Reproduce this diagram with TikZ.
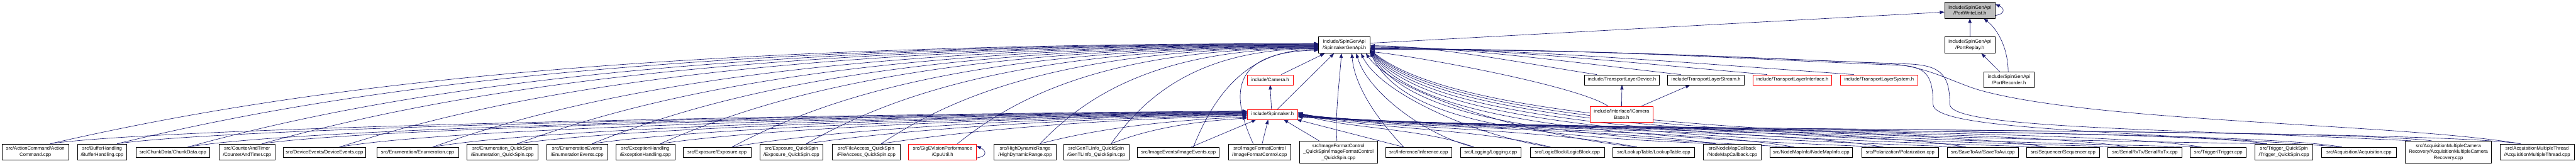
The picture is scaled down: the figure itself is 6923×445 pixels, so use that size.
\documentclass[tikz,border=0pt]{standalone}
\usepackage{fontspec}
\setmainfont{Liberation Sans}
\usetikzlibrary{arrows.meta,calc}
\definecolor{edgeblue}{HTML}{191970}
\definecolor{nodegray}{HTML}{BFBFBF}
\definecolor{nodered}{HTML}{FF0000}
\newcommand\gfont{\fontsize{13}{16}\selectfont}
\pgfdeclarelayer{bg}
\pgfsetlayers{bg,main}
\tikzset{
 box/.style={draw=black, fill=white, line width=1.3pt, inner sep=0pt, align=center, font=\gfont},
 rbox/.style={box, draw=nodered},
 gbox/.style={box, fill=nodegray},
 hA/.style={minimum height=27pt},
 hB/.style={minimum height=43pt},
 hC/.style={minimum height=59pt},
 conn/.style={draw=edgeblue, line width=1.1pt, -{Triangle[length=12pt,width=9pt]}},
}
\begin{document}
\begin{tikzpicture}[x=1pt,y=-1pt]
\useasboundingbox (0,0) rectangle (6923,445);
% bottom row
\node[box,hB,minimum width=180pt] (ac) at (95,408.5) {src/ActionCommand/Action\\Command.cpp};
\node[box,hB,minimum width=131pt] (bh) at (274.5,408.5) {src/BufferHandling\\/BufferHandling.cpp};
\node[box,hA,minimum width=199pt] (cd) at (464.5,409.5) {src/ChunkData/ChunkData.cpp};
\node[box,hB,minimum width=152pt] (ct) at (664,408.5) {src/CounterAndTimer\\/CounterAndTimer.cpp};
\node[box,hA,minimum width=220pt] (de) at (872,409.5) {src/DeviceEvents/DeviceEvents.cpp};
\node[box,hA,minimum width=219pt] (en) at (1122.5,409.5) {src/Enumeration/Enumeration.cpp};
\node[box,hB,minimum width=190pt] (eq) at (1350,408.5) {src/Enumeration\_QuickSpin\\/Enumeration\_QuickSpin.cpp};
\node[box,hB,minimum width=164pt] (ee) at (1551,408.5) {src/EnumerationEvents\\/EnumerationEvents.cpp};
\node[box,hB,minimum width=159pt] (eh) at (1734.5,408.5) {src/ExceptionHandling\\/ExceptionHandling.cpp};
\node[box,hA,minimum width=182pt] (ex) at (1927,409.5) {src/Exposure/Exposure.cpp};
\node[box,hB,minimum width=170pt] (xq) at (2127,408.5) {src/Exposure\_QuickSpin\\/Exposure\_QuickSpin.cpp};
\node[box,hB,minimum width=182pt] (fa) at (2328,408.5) {src/FileAccess\_QuickSpin\\/FileAccess\_QuickSpin.cpp};
\node[rbox,hB,minimum width=182pt] (cu) at (2533,408.5) {src/GigEVisionPerformance\\/CpuUtil.h};
\node[box,hB,minimum width=168pt] (hd) at (2755,408.5) {src/HighDynamicRange\\/HighDynamicRange.cpp};
\node[box,hB,minimum width=176pt] (gt) at (2946,408.5) {src/GenTLInfo\_QuickSpin\\/GenTLInfo\_QuickSpin.cpp};
\node[box,hA,minimum width=220pt] (ie) at (3167,409.5) {src/ImageEvents/ImageEvents.cpp};
\node[box,hB,minimum width=168pt] (ifc) at (3385,408.5) {src/ImageFormatControl\\/ImageFormatControl.cpp};
\node[box,hC,minimum width=210pt] (ifq) at (3597,408.5) {src/ImageFormatControl\\\_QuickSpin/ImageFormatControl\\\_QuickSpin.cpp};
\node[box,hA,minimum width=177pt] (inf) at (3812.5,409.5) {src/Inference/Inference.cpp};
\node[box,hA,minimum width=162pt] (lg) at (4006,409.5) {src/Logging/Logging.cpp};
\node[box,hA,minimum width=200pt] (lb) at (4212,409.5) {src/LogicBlock/LogicBlock.cpp};
\node[box,hA,minimum width=219pt] (lt) at (4444.5,409.5) {src/LookupTable/LookupTable.cpp};
\node[box,hB,minimum width=155pt] (nc) at (4655.5,408.5) {src/NodeMapCallback\\/NodeMapCallback.cpp};
\node[box,hA,minimum width=223pt] (ni) at (4867.5,409.5) {src/NodeMapInfo/NodeMapInfo.cpp};
\node[box,hA,minimum width=207pt] (po) at (5106.5,409.5) {src/Polarization/Polarization.cpp};
\node[box,hA,minimum width=190pt] (sa) at (5329,409.5) {src/SaveToAvi/SaveToAvi.cpp};
\node[box,hA,minimum width=197pt] (sq) at (5544.5,409.5) {src/Sequencer/Sequencer.cpp};
\node[box,hA,minimum width=199pt] (sr) at (5764.5,409.5) {src/SerialRxTx/SerialRxTx.cpp};
\node[box,hA,minimum width=151pt] (tr) at (5961.5,409.5) {src/Trigger/Trigger.cpp};
\node[box,hB,minimum width=156pt] (tq) at (6138,408.5) {src/Trigger\_QuickSpin\\/Trigger\_QuickSpin.cpp};
\node[box,hA,minimum width=201pt] (aq) at (6339.5,409.5) {src/Acquisition/Acquisition.cpp};
\node[box,hC,minimum width=232pt] (amc) at (6580,408.5) {src/AcquisitionMultipleCamera\\Recovery/AcquisitionMultipleCamera\\Recovery.cpp};
\node[box,hB,minimum width=199pt] (amt) at (6818.5,408.5) {src/AcquisitionMultipleThread\\/AcquisitionMultipleThread.cpp};
% middle / top
\node[rbox,hA,minimum width=136pt] (sp) at (3420,307.5) {include/Spinnaker.h};
\node[rbox,hA,minimum width=123pt] (cam) at (3413.5,214.5) {include/Camera.h};
\node[box,minimum height=44pt,minimum width=138pt] (hub) at (3613,121) {include/SpinGenApi\\/SpinnakerGenApi.h};
\node[rbox,hB,minimum width=168pt] (icb) at (4358,307.5) {include/Interface/ICamera\\Base.h};
\node[box,hA,minimum width=202pt] (tld) at (4359,214.5) {include/TransportLayerDevice.h};
\node[box,hA,minimum width=206pt] (tls) at (4585,214.5) {include/TransportLayerStream.h};
\node[rbox,hA,minimum width=212pt] (tli) at (4817,214.5) {include/TransportLayerInterface.h};
\node[rbox,hA,minimum width=208pt] (tlsys) at (5050,214.5) {include/TransportLayerSystem.h};
\node[gbox,hB,minimum width=136pt] (pwl) at (5294,27.5) {include/SpinGenApi\\/PortWriteList.h};
\node[box,minimum height=44pt,minimum width=136pt] (prp) at (5294,121) {include/SpinGenApi\\/PortReplay.h};
\node[box,hB,minimum width=136pt] (prc) at (5399,214.5) {include/SpinGenApi\\/PortRecorder.h};

\begin{pgfonlayer}{bg}
\fill[white] (0,0) rectangle (6923,445);
% left nodes -> Spinnaker.h
\foreach \n/\xs/\dy in {ac/95/-9,bh/274.5/-8,cd/464.5/-7,ct/664/-6,de/872/-5,en/1122.5/-4,eq/1350/-3,ee/1551/-2,eh/1734.5/-1,ex/1927/0,xq/2127/2,fa/2328/4,hd/2755/7,gt/2946/10}{
 \pgfmathsetmacro\dd{3352-\xs-40}
 \draw[conn] ($(\n.north)+(40,0)$) .. controls ({\xs+40+min(300,0.3*\dd)},342) and ({3352-0.35*\dd},{315.5+\dy}) .. ($(sp.west)+(0,\dy)$);
}
% left nodes -> SpinnakerGenApi.h
\foreach \n/\xs/\dy in {ac/95/-4,bh/274.5/-3,cd/464.5/-2,ct/664/-1,de/872/0,en/1122.5/1,eq/1350/2,ee/1551/3,eh/1734.5/4,ex/1927/5,xq/2127/6,fa/2328/7,cu/2533/8,hd/2755/9,gt/2946/10,ie/3167/12}{
 \pgfmathsetmacro\dd{3544-\xs-40}
 \draw[conn] ($(\n.north)+(40,0)$) .. controls ({\xs+40+0.15*\dd},270) and ({3544-0.6*\dd},{121+\dy}) .. ($(hub.west)+(0,\dy)$);
}
% right nodes -> Spinnaker.h
\foreach \n/\xs/\dy in {lg/4006/-6,lb/4212/-5,lt/4444.5/-4,nc/4655.5/-3,ni/4867.5/-2,po/5106.5/-1,sa/5329/0,sq/5544.5/1,sr/5764.5/2,tr/5961.5/3,tq/6138/4,aq/6339.5/5,amc/6580/6,amt/6818.5/7}{
 \pgfmathsetmacro\dd{\xs-45-3488}
 \draw[conn] ($(\n.north)+(-45,0)$) .. controls ({\xs-45-min(300,0.3*\dd)},342) and ({3488+0.2*\dd},{350+\dy}) .. ($(sp.east)+(0,\dy)$);
}
% right nodes -> hub bottom
\foreach \n/\xs/\dx in {lg/4006/32,lb/4212/45,lt/4444.5/58}{
 \pgfmathsetmacro\dd{\xs-45-3613-\dx}
 \draw[conn] ($(\n.north)+(-45,0)$) .. controls ({\xs-45-0.4*\dd},365) and ({3613+\dx+0.1*\dd},250) .. ($(hub.south)+(\dx,0)$);
}
% right nodes -> hub east (low route)
\foreach \n/\xs/\dy in {nc/4655.5/20,ni/4867.5/19,po/5106.5/18,sa/5329/17,sq/5544.5/16,sr/5764.5/15,tr/5961.5/14,tq/6138/13}{
 \pgfmathsetmacro\dd{\xs-45-3682}
 \draw[conn] ($(\n.north)+(-45,0)$) .. controls ({\xs-45-0.5*\dd},368) and ({3682+0.1*\dd},335) .. ($(hub.east)+(0,\dy)$);
}
% right nodes -> hub east (high route)
\draw[conn] ($(aq.north)+(-45,0)$) .. controls (5700,350) and (5195,350) .. (5195,280) .. controls (5195,200) and (5175,178) .. (5100,175) .. controls (4700,160) and (4300,131) .. ($(hub.east)+(0,10)$);
\draw[conn] ($(amc.north)+(-100,0)$) .. controls (5800,345) and (5240,345) .. (5240,280) .. controls (5240,200) and (5215,176) .. (5130,172) .. controls (4720,158) and (4300,132) .. ($(hub.east)+(0,11)$);
\draw[conn] ($(amt.north)+(-45,0)$) .. controls (6450,332) and (5650,330) .. (5330,245) .. controls (5250,224) and (5180,175) .. (5060,170) .. controls (4700,155) and (4300,133) .. ($(hub.east)+(0,12)$);
% transport layer -> hub
\foreach \n/\xs/\dy in {tld/4359/2,tls/4585/4,tli/4817/6,tlsys/5050/8}{
 \pgfmathsetmacro\dd{\xs-68-3682}
 \draw[conn] ($(\n.north)+(-68,0)$) .. controls ({\xs-68-0.25*\dd},178) and ({3682+0.3*\dd},{121+\dy}) .. ($(hub.east)+(0,\dy)$);
}
% ICameraBase
\draw[conn] ($(icb.north)+(-36,0)$) .. controls (4240,230) and (3800,150) .. ($(hub.east)+(0,18)$);
\draw[conn] (icb.north) -- (tld.south);
\draw[conn] ($(icb.north)+(53,0)$) -- ($(tls.south)+(-43,0)$);
% centre nodes
\draw[conn] ($(ie.north)+(34,0)$) -- ($(sp.south)+(-44,0)$);
\draw[conn] ($(ifc.north)+(7,0)$) -- ($(sp.south)+(-12,0)$);
\draw[conn] ($(ifc.north)+(-17,0)$) .. controls (3310,260) and (3300,140) .. ($(hub.west)+(0,14)$);
\draw[conn] ($(ifq.north)+(-52,0)$) -- ($(sp.south)+(30,0)$);
\draw[conn] ($(ifq.north)+(-4,0)$) .. controls (3588,300) and (3600,220) .. ($(hub.south)+(-8,0)$);
\draw[conn] ($(inf.north)+(-40,0)$) -- ($(sp.south east)+(-3,0)$);
\draw[conn] ($(inf.north)+(-40,0)$) .. controls (3700,320) and (3640,230) .. ($(hub.south)+(20,0)$);
% headers
\draw[conn] ($(sp.north)+(-3,0)$) -- (cam.south);
\draw[conn] ($(sp.north)+(13,0)$) -- ($(hub.south)+(-28,0)$);
\draw[conn] ($(cam.north)+(30,0)$) -- ($(hub.south)+(-53,0)$);
\draw[conn] ($(hub.east)+(0,-5)$) -- ($(pwl.west)+(0,5)$);
\draw[conn] (prp.north) -- (pwl.south);
\draw[conn] ($(prc.north)+(-25,0)$) -- ($(prp.south)+(31,0)$);
\draw[conn] ($(prc.north)+(-2,0)$) .. controls (5396,130) and (5370,80) .. ($(pwl.south)+(37,0)$);
% self loops
\draw[conn] ($(pwl.east)+(0,14)$) .. controls +(28,-4) and +(24,10) .. ($(pwl.east)+(0,-16)$);
\draw[conn] ($(cu.east)+(0,16)$) .. controls +(30,-4) and +(26,12) .. ($(cu.east)+(0,-16)$);
\end{pgfonlayer}
\end{tikzpicture}
\end{document}
